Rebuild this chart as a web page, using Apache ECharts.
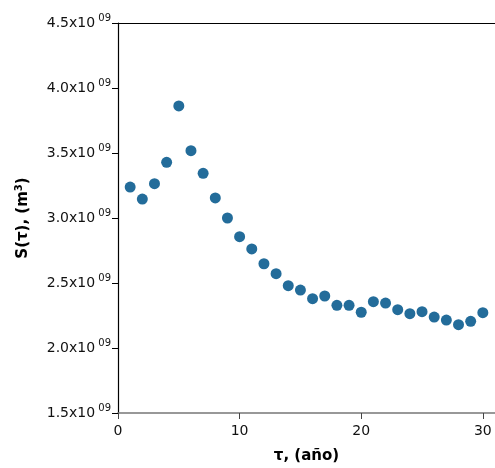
<!DOCTYPE html>
<html>
<head>
<meta charset="utf-8">
<script src="https://cdn.jsdelivr.net/npm/echarts@6/dist/echarts.min.js"></script>
<style>html,body{margin:0;padding:0;background:#fff;}#c{width:495px;height:468px;}</style>
</head>
<body>
<div id="c"></div>
<script>
var tau = [1,2,3,4,5,6,7,8,9,10,11,12,13,14,15,16,17,18,19,20,21,22,23,24,25,26,27,28,29,30];
var sValues = [3.238,3.146,3.264,3.428,3.862,3.518,3.344,3.154,3.000,2.856,2.762,2.648,2.572,2.479,2.446,2.379,2.400,2.328,2.328,2.275,2.356,2.346,2.295,2.264,2.279,2.238,2.215,2.179,2.205,2.272];
var yTickMantissa = ['1.5','2.0','2.5','3.0','3.5','4.0','4.5'];
var yTickExponent = '09';
var xTicks = [0,10,20,30];

var data = tau.map(function(t,i){ return [t, sValues[i]*1e9]; });
var font = '"DejaVu Sans", "Noto Sans", sans-serif';
var chart = echarts.init(document.getElementById('c'));
chart.setOption({
  animation: false,
  grid: {left: 118, right: 0, top: 23, bottom: 55, outerBoundsMode: 'none', containLabel: false},
  xAxis: [{
    type: 'value', min: 0, max: 31,
    name: 'τ, (año)', nameLocation: 'middle', nameGap: 36,
    nameTextStyle: {fontFamily: font, fontWeight: 'bold', fontSize: 15, color: '#000'},
    axisLine: {show: true, lineStyle: {color: '#777', width: 1.5}},
    axisTick: {show: true, length: 6, customValues: xTicks, lineStyle: {color: '#444'}},
    axisLabel: {fontFamily: font, fontSize: 14, color: '#111', margin: 11, customValues: xTicks},
    splitLine: {show: false}
  },{
    type: 'value', position: 'top', min: 0, max: 31,
    axisLine: {show: true, lineStyle: {color: '#000', width: 1.2}},
    axisTick: {show: false}, axisLabel: {show: false}, splitLine: {show: false}
  }],
  yAxis: {
    type: 'value', min: 1.5e9, max: 4.5e9, interval: 0.5e9,
    name: 'S(τ), (m{sup|3})', nameLocation: 'middle', nameGap: 86, nameRotate: 90,
    nameTextStyle: {fontFamily: font, fontWeight: 'bold', fontSize: 15, color: '#000',
      rich: {sup: {fontFamily: font, fontWeight: 'bold', fontSize: 10, color: '#000', verticalAlign: 'bottom', padding: [0,0,8,0]}}},
    axisLine: {show: true, lineStyle: {color: '#000', width: 1.2}},
    axisTick: {show: true, length: 6, lineStyle: {color: '#000'}},
    axisLabel: {fontFamily: font, fontSize: 14, color: '#111', margin: 7,
      formatter: function(v){
        var i = Math.round((v - 1.5e9)/0.5e9);
        return '{a|' + yTickMantissa[i] + 'x10}{b| ' + yTickExponent + '}';
      },
      rich: {
        a: {fontFamily: font, fontSize: 14, color: '#111'},
        b: {fontFamily: font, fontSize: 10, color: '#111', verticalAlign: 'bottom', padding: [0,0,10,0]}
      }
    },
    splitLine: {show: false}
  },
  series: [{
    type: 'scatter', data: data, symbol: 'circle', symbolSize: 11,
    itemStyle: {color: '#236c9a', opacity: 1}
  }]
});
</script>
</body>
</html>
